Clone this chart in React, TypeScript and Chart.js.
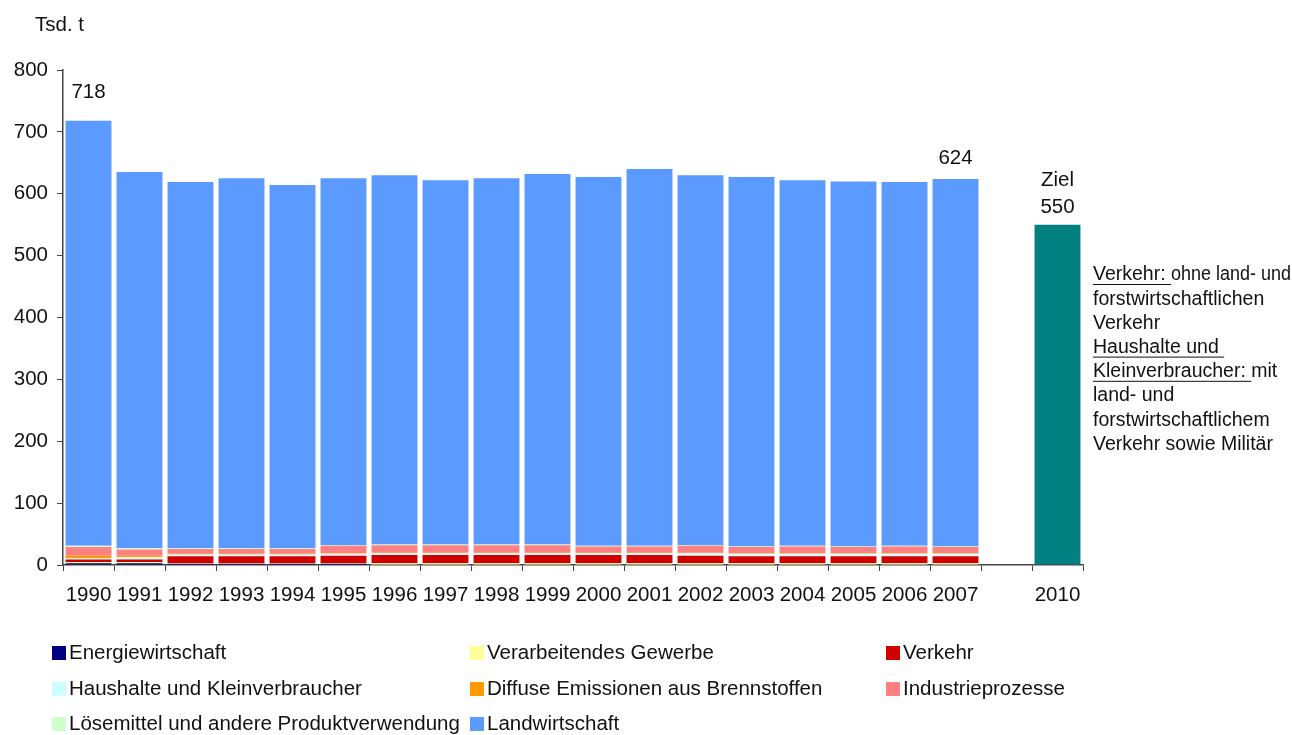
import React, { useEffect, useRef } from "react";
import { Chart, registerables } from "chart.js";

Chart.register(...registerables);

const years = ["1990","1991","1992","1993","1994","1995","1996","1997","1998","1999","2000","2001","2002","2003","2004","2005","2006","2007"];
const categories = [...years, "", "2010"];

const energiewirtschaft = [3,3,2,2,2,2,1,1,1,1,1,1,1,1,1,1,1,1];
const verarbeitendesGewerbe = [2,2,1,1,1,1,2,2,2,2,2,2,2,2,2,2,2,2];
const verkehr = [4,4,11,11,11,12,13,13,13,13,13,13,12,11,11,11,11,11];
const haushalte = [2,4,3,3,3,3,3,3,3,3,3,3,4,4,4,4,4,4];
const diffuse = [4,2,1,1,1,1,1,1,1,1,1,1,1,1,1,1,1,1];
const industrieprozesse = [14,10,8,8,8,12,12,12,12,12,10,10,11,10,11,10,11,10];
const loesemittel = [2,2,1,1,1,1,1,1,1,1,1,1,1,1,1,1,1,1];
const landwirtschaft = [687,608,592,598,587,593,597,589,592,599,596,609,598,597,591,590,588,594];
const ziel = 550;
const yTicks = [0,100,200,300,400,500,600,700,800];

const seriesNames = [
  "Energiewirtschaft",
  "Verarbeitendes Gewerbe",
  "Verkehr",
  "Haushalte und Kleinverbraucher",
  "Diffuse Emissionen aus Brennstoffen",
  "Industrieprozesse",
  "Lösemittel und andere Produktverwendung",
  "Landwirtschaft",
];
const seriesColors = ["#000080","#FFFF99","#D00000","#CCFFFF","#FF9900","#FF8080","#CCFFCC","#5B9BFF"];
const seriesData = [energiewirtschaft, verarbeitendesGewerbe, verkehr, haushalte, diffuse, industrieprozesse, loesemittel, landwirtschaft];

const FONT = "'Liberation Sans', Arial, sans-serif";
const FS = 20.5;
const FS_NOTE = 19.5;

export default function App() {
  const ref = useRef<HTMLCanvasElement | null>(null);
  useEffect(() => {
    document.body.style.margin = "0";
    const canvas = ref.current;
    if (!canvas) return;

    const datasets: any[] = seriesData.map((d, i) => ({
      label: seriesNames[i],
      data: [...d, null, null],
      backgroundColor: seriesColors[i],
      borderWidth: 0,
      stack: "s",
      barPercentage: 0.9,
      categoryPercentage: 1,
    }));
    datasets.push({
      label: "Ziel",
      data: [...years.map(() => null), null, ziel],
      backgroundColor: "#008080",
      borderWidth: 0,
      stack: "s",
      barPercentage: 0.9,
      categoryPercentage: 1,
    });

    const textPlugin = {
      id: "texts",
      afterDraw(chart: any) {
        const ctx = chart.ctx;
        const xs = chart.scales.x;
        const ys = chart.scales.y;
        ctx.save();
        ctx.fillStyle = "#111";
        ctx.font = `${FS}px ${FONT}`;
        ctx.textBaseline = "middle";
        ctx.textAlign = "left";
        ctx.fillText("Tsd. t", 35, 25);

        const total = (i: number) => seriesData.reduce((s, d) => s + d[i], 0);
        ctx.textAlign = "center";
        ctx.fillText(String(total(0)), xs.getPixelForValue(0), ys.getPixelForValue(total(0)) - 28);
        const last = years.length - 1;
        ctx.fillText(String(total(last)), xs.getPixelForValue(last), ys.getPixelForValue(total(last)) - 21);
        const zx = xs.getPixelForValue(19);
        const zy = ys.getPixelForValue(ziel);
        ctx.fillText("Ziel", zx, zy - 44);
        ctx.fillText(String(ziel), zx, zy - 17);

        // annotation
        ctx.font = `${FS_NOTE}px ${FONT}`;
        ctx.textAlign = "left";
        const ax = 1093;
        const lines: [string, string][] = [
          ["Verkehr: ", "ohne land- und"],
          ["", "forstwirtschaftlichen"],
          ["", "Verkehr"],
          ["Haushalte und ", ""],
          ["Kleinverbraucher: ", "mit"],
          ["", "land- und"],
          ["", "forstwirtschaftlichem"],
          ["", "Verkehr sowie Militär"],
        ];
        lines.forEach(([u, t], k) => {
          const y = 275 + k * 24.2;
          let x = ax;
          if (u) {
            ctx.fillText(u, x, y);
            const w = ctx.measureText(u).width;
            ctx.fillRect(x, y + 9, w, 1);
            x += w;
          }
          if (t) ctx.fillText(t, x, y, 1291 - x);
        });

        // legend
        ctx.font = `${FS}px ${FONT}`;
        const colX = [52, 470, 886];
        const rowY = [653, 689, 724];
        seriesNames.forEach((name, i) => {
          const col = i % 3;
          const row = Math.floor(i / 3);
          const x = colX[col];
          const y = rowY[row];
          ctx.fillStyle = seriesColors[i];
          ctx.fillRect(x, y - 7, 14, 14);
          ctx.fillStyle = "#111";
          ctx.fillText(name, x + 17, y);
        });
        ctx.restore();
      },
    };

    const chart = new Chart(canvas, {
      type: "bar",
      data: { labels: categories, datasets },
      options: {
        animation: false,
        responsive: false,
        maintainAspectRatio: false,
        layout: { padding: { left: 0, right: 209, top: 70, bottom: 125 } },
        plugins: { legend: { display: false }, tooltip: { enabled: false } },
        scales: {
          x: {
            stacked: true,
            grid: { drawOnChartArea: false, drawTicks: true, tickLength: 6, color: "#444", offset: true },
            border: { display: true, color: "#444", width: 1.5 },
            ticks: { color: "#111", font: { family: FONT, size: FS }, padding: 12, maxRotation: 0, autoSkip: false },
            afterFit(scale: any) { scale.height = 45; },
          },
          y: {
            stacked: true,
            min: 0,
            max: 800,
            afterBuildTicks(scale: any) { scale.ticks = yTicks.map((v) => ({ value: v })); },
            grid: { drawOnChartArea: false, drawTicks: true, tickLength: 6, color: "#444" },
            border: { display: true, color: "#444", width: 1.5 },
            ticks: { color: "#111", font: { family: FONT, size: FS }, padding: 9 },
            afterFit(scale: any) { scale.width = 63; },
          },
        },
      },
      plugins: [textPlugin],
    });
    return () => chart.destroy();
  }, []);
  return <canvas ref={ref} width={1292} height={735} style={{ display: "block", width: 1292, height: 735 }} />;
}
